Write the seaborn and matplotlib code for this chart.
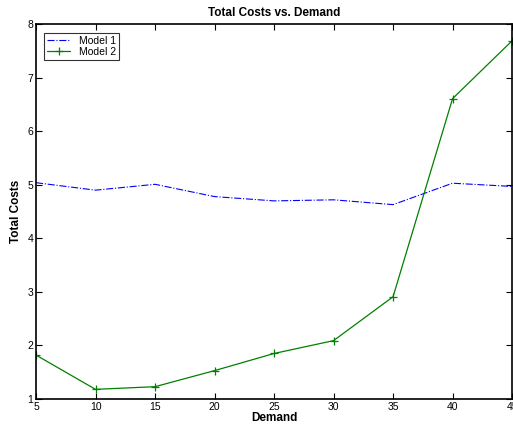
import seaborn as sns
import matplotlib
matplotlib.use("Agg")
import matplotlib.pyplot as plt
import pandas as pd

demand = [5, 10, 15, 20, 25, 30, 35, 40, 45]
model1 = [5.04, 4.90, 5.01, 4.78, 4.70, 4.72, 4.63, 5.03, 4.97]
model2 = [1.82, 1.18, 1.23, 1.53, 1.85, 2.09, 2.91, 6.61, 7.69]

sns.set_style("ticks")
plt.rcParams['font.family'] = ['Liberation Sans', 'DejaVu Sans']
plt.rcParams['text.color'] = 'black'
plt.rcParams['axes.labelcolor'] = 'black'
plt.rcParams['xtick.color'] = 'black'
plt.rcParams['ytick.color'] = 'black'

datos = pd.DataFrame({"Demand": demand, "Model 1": model1, "Model 2": model2})

fig = plt.figure(figsize=(5.13, 4.32), dpi=100)
ax = fig.add_axes([0.0702, 0.0764, 0.928, 0.8676])

sns.lineplot(x="Demand", y="Model 1", data=datos, ax=ax, color="blue",
             linestyle="-.", linewidth=0.8, label="Model 1")
sns.lineplot(x="Demand", y="Model 2", data=datos, ax=ax, color="green",
             linewidth=0.9, marker="+", markersize=6, markeredgewidth=0.9,
             markeredgecolor="green", label="Model 2")

ax.set_xlim(5, 45)
ax.set_ylim(1, 8)
ax.set_xticks(demand)
ax.set_yticks(range(1, 9))
ax.tick_params(direction="in", top=True, right=True, labelsize=7.5,
               length=4, width=0.8, pad=2)
for s in ax.spines.values():
    s.set_linewidth(1.2)
    s.set_color("black")

ax.set_title("Total Costs vs. Demand", fontsize=8.5, fontweight="bold", pad=6)
ax.set_xlabel("Demand", fontsize=8.5, fontweight="bold", labelpad=0)
ax.set_ylabel("Total Costs", fontsize=8.5, fontweight="bold", labelpad=4)

leg = ax.legend(loc="upper left", fontsize=7.5, frameon=True, fancybox=False,
                borderpad=0.3, handlelength=2.2, labelspacing=0.1,
                borderaxespad=0.8)
leg.get_frame().set_edgecolor("black")
leg.get_frame().set_linewidth(0.8)

fig.savefig("out.png", dpi=100)
